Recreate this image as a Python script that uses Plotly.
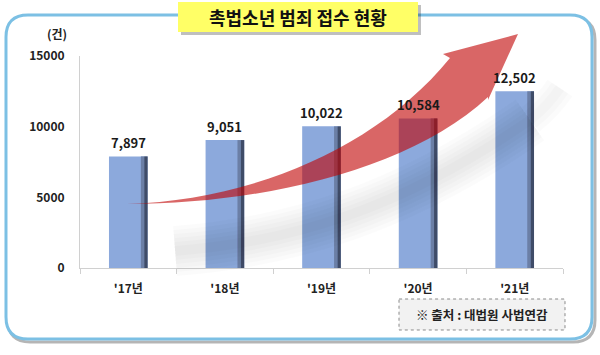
import plotly.graph_objects as go

# ---- data ----
years = ["'17년", "'18년", "'19년", "'20년", "'21년"]
cases = [7897, 9051, 10022, 10584, 12502]
y_ticks = [0, 5000, 10000, 15000]
title_text = "촉법소년 범죄 접수 현황"
unit_text = "(건)"
source_text = "※ 출처 : 대법원 사법연감"

W, H = 600, 355
L, R, T, B = 80, 563, 56, 268  # plot area in pixels
FONT = "Noto Sans CJK KR"


def px(x, y):
    return (x - L) / (R - L), (B - y) / (B - T)


def path(cmds, close=True):
    out = []
    for c in cmds:
        letter, pts = c[0], c[1:]
        coords = []
        for (x, y) in pts:
            a, b = px(x, y)
            coords.append(f"{a:.5f},{b:.5f}")
        out.append(letter + " " + " ".join(coords))
    return " ".join(out) + (" Z" if close else "")


def rrect(x0, y0, x1, y1, r):
    return path([
        ("M", (x0 + r, y0)), ("L", (x1 - r, y0)), ("Q", (x1, y0), (x1, y0 + r)),
        ("L", (x1, y1 - r)), ("Q", (x1, y1), (x1 - r, y1)),
        ("L", (x0 + r, y1)), ("Q", (x0, y1), (x0, y1 - r)),
        ("L", (x0, y0 + r)), ("Q", (x0, y0), (x0 + r, y0)),
    ])


fig = go.Figure()

# main bars
fig.add_trace(go.Bar(
    x=years, y=cases, width=0.40, offset=-0.20,
    marker=dict(color="#8CA9DC", line=dict(width=0)),
    hoverinfo="skip", showlegend=False,
))
# shaded right edges (3D look)
fig.add_trace(go.Bar(
    x=years, y=cases, width=0.035, offset=0.13,
    marker=dict(color="#6b7fa6", line=dict(width=0)),
    hoverinfo="skip", showlegend=False,
))
fig.add_trace(go.Bar(
    x=years, y=cases, width=0.035, offset=0.165,
    marker=dict(color="#3f4c68", line=dict(width=0)),
    hoverinfo="skip", showlegend=False,
))

shapes = []
# outer border shadow + blue rounded border
shapes.append(dict(type="path", xref="paper", yref="paper", layer="below",
                   path=rrect(8, 18, 595, 342, 22),
                   line=dict(color="rgba(120,120,120,0.55)", width=3)))
shapes.append(dict(type="path", xref="paper", yref="paper", layer="below",
                   path=rrect(6, 15, 592, 339, 22),
                   fillcolor="white",
                   line=dict(color="#7CC0E4", width=3)))

# soft grey shadow band under the arrow (tapered ends)
shadow_main = path([("M", (175, 251)), ("C", (290, 242), (400, 210), (530, 120))], close=False)
shadow_end = path([("M", (530, 120)), ("C", (545, 108), (552, 100), (560, 88))], close=False)
for w in [50, 42, 34, 26, 18, 10]:
    shapes.append(dict(type="path", xref="paper", yref="paper", layer="above",
                       path=shadow_main,
                       line=dict(color="rgba(0,0,0,0.015)", width=w)))
for w in [30, 20, 10]:
    shapes.append(dict(type="path", xref="paper", yref="paper", layer="above",
                       path=shadow_end,
                       line=dict(color="rgba(0,0,0,0.015)", width=w)))

# red curved arrow
arrow = path([
    ("M", (127, 204)),
    ("C", (250, 200), (375, 150), (450, 58)),
    ("L", (443, 54)),
    ("L", (518, 34)),
    ("L", (488, 100)),
    ("L", (488, 97)),
    ("C", (410, 170), (260, 204), (127, 204)),
])
shapes.append(dict(type="path", xref="paper", yref="paper", layer="above",
                   path=arrow, fillcolor="rgba(192,0,0,0.6)",
                   line=dict(width=0)))

# title box shadow + box
shapes.append(dict(type="path", xref="paper", yref="paper", layer="above",
                   path=rrect(181, 5, 421, 35, 0.1),
                   fillcolor="rgba(0,0,0,0.25)", line=dict(width=0)))
shapes.append(dict(type="path", xref="paper", yref="paper", layer="above",
                   path=rrect(178, 2, 418, 32, 0.1),
                   fillcolor="#FFFF66", line=dict(width=0)))

# source box
shapes.append(dict(type="path", xref="paper", yref="paper", layer="above",
                   path=rrect(399, 299, 565, 330, 0.1),
                   fillcolor="#F2F2F2",
                   line=dict(color="#8a8a8a", width=1, dash="dot")))

annotations = []
# value labels (above the arrow)
for yr, v in zip(years, cases):
    annotations.append(dict(x=yr, y=v, xref="x", yref="y", text=f"{v:,}",
                            showarrow=False, xanchor="center", yanchor="bottom",
                            yshift=2,
                            font=dict(family=FONT, size=13, color="#1a1a1a", weight="bold")))
tx, ty = px(298, 17)
annotations.append(dict(x=tx, y=ty, xref="paper", yref="paper", text=title_text,
                        showarrow=False, xanchor="center", yanchor="middle",
                        font=dict(family=FONT, size=18, color="#111", weight="bold")))
ux, uy = px(57, 34)
annotations.append(dict(x=ux, y=uy, xref="paper", yref="paper", text=unit_text,
                        showarrow=False, xanchor="center", yanchor="middle",
                        font=dict(family=FONT, size=12, color="#222", weight="bold")))
sx, sy = px(482, 314)
annotations.append(dict(x=sx, y=sy, xref="paper", yref="paper", text=source_text,
                        showarrow=False, xanchor="center", yanchor="middle",
                        font=dict(family=FONT, size=12.5, color="#222", weight="bold")))

fig.update_layout(
    width=W, height=H,
    margin=dict(l=L, r=W - R, t=T, b=H - B, pad=0),
    paper_bgcolor="white", plot_bgcolor="rgba(0,0,0,0)",
    barmode="overlay",
    shapes=shapes, annotations=annotations,
    xaxis=dict(
        type="category", range=[-0.5, 4.5],
        showline=True, linecolor="#d0d0d0", linewidth=1,
        ticks="outside", tickson="boundaries", ticklen=5, tickcolor="#d0d0d0",
        showgrid=False, ticklabelstandoff=10,
        tickfont=dict(family=FONT, size=12, color="#222", weight="bold"),
    ),
    yaxis=dict(
        range=[0, 15000], tickvals=y_ticks, ticktext=[str(v) for v in y_ticks],
        showline=True, linecolor="#d0d0d0", linewidth=1,
        showgrid=False, zeroline=False, ticks="", ticklabelstandoff=12,
        tickfont=dict(family=FONT, size=12, color="#222", weight="bold"),
    ),
)

fig.write_html("out.html", config={"displayModeBar": False},
               post_script="document.body.style.margin='0';document.body.style.padding='0';")
